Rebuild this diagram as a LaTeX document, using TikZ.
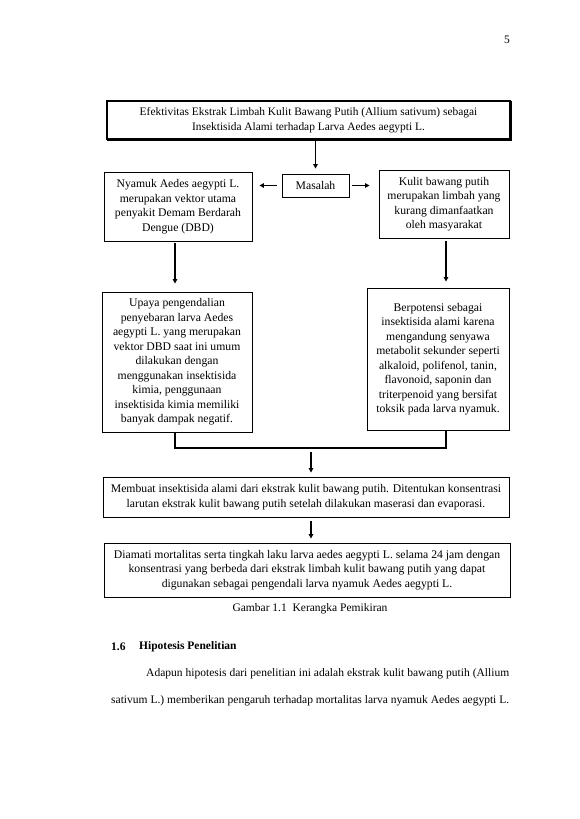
\documentclass[tikz,border=0pt]{standalone}
\usepackage{fontspec}
\setmainfont{Liberation Serif}
\usetikzlibrary{arrows.meta,shadows}
\begin{document}
\begin{tikzpicture}[x=1pt,y=-1pt,
  box/.style={draw,line width=0.9pt,fill=white,align=center,inner sep=0pt,
    font=\fontsize{11.7}{14.5}\selectfont,
    copy shadow={shadow xshift=0.8pt,shadow yshift=-0.8pt}},
  arr/.style={line width=1.1pt,-{Triangle[length=4.5pt,width=4.5pt]}},
  ln/.style={line width=1.1pt},
  txt/.style={inner sep=0pt,font=\fontsize{11.5}{14}\selectfont}]
\useasboundingbox (0,0) rectangle (579,819);

\node[txt] (pg) at (507,40) {5};

\node[box,line width=1.6pt,font=\fontsize{11.4}{14.5}\selectfont,minimum width=403pt,minimum height=38pt] (title) at (308.5,120)
  {Efektivitas Ekstrak Limbah Kulit Bawang Putih (Allium sativum) sebagai\\Insektisida Alami terhadap Larva Aedes aegypti L.};
\node[box,minimum width=67pt,minimum height=23pt] (masalah) at (315.5,185.5) {Masalah};
\node[box,minimum width=148pt,minimum height=69pt] (nyamuk) at (178,206.5)
  {Nyamuk Aedes aegypti L.\\merupakan vektor utama\\penyakit Demam Berdarah\\Dengue (DBD)};
\node[box,minimum width=130pt,minimum height=68pt] (kulit) at (444,204)
  {Kulit bawang putih\\merupakan limbah yang\\kurang dimanfaatkan\\oleh masyarakat};
\node[box,minimum width=150pt,minimum height=140pt] (upaya) at (177,362)
  {Upaya pengendalian\\penyebaran larva Aedes\\aegypti L. yang merupakan\\vektor DBD saat ini umum\\dilakukan dengan\\menggunakan insektisida\\kimia, penggunaan\\insektisida kimia memiliki\\banyak dampak negatif.};
\node[box,minimum width=142pt,minimum height=142pt] (berp) at (438,359)
  {Berpotensi sebagai\\insektisida alami karena\\mengandung senyawa\\metabolit sekunder seperti\\alkaloid, polifenol, tanin,\\flavonoid, saponin dan\\triterpenoid yang bersifat\\toksik pada larva nyamuk.};
\node[box,minimum width=406pt,minimum height=40pt] (membuat) at (306,497)
  {Membuat insektisida alami dari ekstrak kulit bawang putih. Ditentukan konsentrasi\\larutan ekstrak kulit bawang putih setelah dilakukan maserasi dan evaporasi.};
\node[box,minimum width=406pt,minimum height=54pt] (diamati) at (307,570)
  {Diamati mortalitas serta tingkah laku larva aedes aegypti L. selama 24 jam dengan\\konsentrasi yang berbeda dari ekstrak limbah kulit bawang putih yang dapat\\digunakan sebagai pengendali larva nyamuk Aedes aegypti L.};

\node[txt] (cap) at (310,609) {Gambar 1.1\ \ Kerangka Pemikiran};

\node[txt,anchor=west] (num) at (111,647) {\bfseries 1.6};
\node[txt,anchor=west] (head) at (139,647) {\bfseries Hipotesis Penelitian};
\node[txt,anchor=west] (p1) at (146,674)
  {\makebox[363pt][s]{Adapun hipotesis dari penelitian ini adalah ekstrak kulit bawang putih (Allium}};
\node[txt,anchor=west] (p2) at (111,701)
  {\makebox[398pt][s]{sativum L.) memberikan pengaruh terhadap mortalitas larva nyamuk Aedes aegypti L.}};

% connectors
\draw[arr,shorten >=5pt] (masalah.north |- title.south) -- (masalah.north);
\draw[arr,shorten <=5pt,shorten >=7pt] (masalah.west) -- (masalah.west -| nyamuk.east);
\draw[arr,shorten <=3pt,shorten >=9pt] (masalah.east) -- (masalah.east -| kulit.west);
\draw[arr,shorten <=2pt,shorten >=8pt] ([xshift=-3pt]nyamuk.south) -- ([xshift=-3pt]nyamuk.south |- upaya.north);
\draw[arr,shorten <=3pt,shorten >=6pt] ([xshift=2pt]kulit.south) -- ([xshift=2pt]kulit.south |- berp.north);

\coordinate (m) at (311,448);
\draw[ln] ([xshift=-2pt]upaya.south) -- ([xshift=-2pt]upaya.south |- m) -- ([xshift=8pt]berp.south |- m) -- ([xshift=8pt]berp.south);
\draw[arr,shorten <=4pt,shorten >=4pt] (m) -- (m |- membuat.north);
\draw[arr,shorten <=4pt,shorten >=4pt] (m |- membuat.south) -- (m |- diamati.north);
\end{tikzpicture}
\end{document}
